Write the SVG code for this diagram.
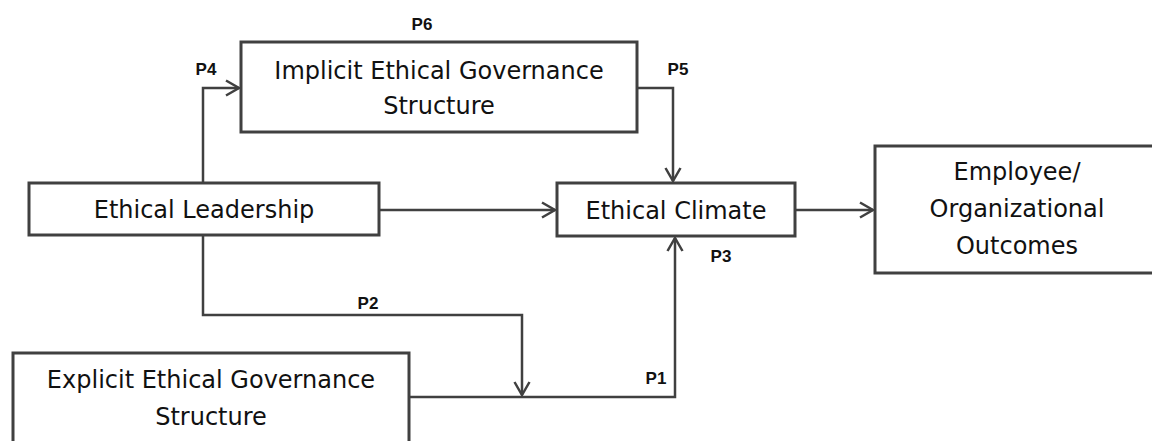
<svg xmlns="http://www.w3.org/2000/svg" width="1152" height="441" viewBox="0 0 1152 441">
<style>
.box{fill:#fff;stroke:#404040;stroke-width:3}
.t{font-family:"DejaVu Sans",sans-serif;font-size:24px;fill:#111;text-anchor:middle}
.p{font-family:"Liberation Sans",Arial,sans-serif;font-size:17px;font-weight:bold;fill:#111;text-anchor:middle}
.c{fill:none;stroke:#404040;stroke-width:2.5}
</style>
<defs>
<marker id="ah" markerUnits="userSpaceOnUse" markerWidth="20" markerHeight="20" viewBox="-15 -10 17 20" refX="0" refY="0" orient="auto">
<path d="M-13,-7.5 L0,0 L-13,7.5" fill="none" stroke="#404040" stroke-width="2.5"/>
</marker>
</defs>
<rect width="1152" height="441" fill="#fff"/>
<g id="connectors">
<path class="c" d="M203,183 V88 H239" marker-end="url(#ah)"/>
<path class="c" d="M637,88 H673 V181" marker-end="url(#ah)"/>
<path class="c" d="M379,210 H555" marker-end="url(#ah)"/>
<path class="c" d="M795,210 H873" marker-end="url(#ah)"/>
<path class="c" d="M203,235 V315 H522 V395" marker-end="url(#ah)"/>
<path class="c" d="M409,397 H675 V238" marker-end="url(#ah)"/>
</g>
<g id="labels">
<text class="p" x="422" y="30">P6</text>
<text class="p" x="206" y="75">P4</text>
<text class="p" x="678" y="75">P5</text>
<text class="p" x="721" y="262">P3</text>
<text class="p" x="368" y="309">P2</text>
<text class="p" x="656" y="384">P1</text>
</g>
<g id="implicit">
<rect class="box" x="241" y="42" width="396" height="90"/>
<text class="t" x="439" y="79">Implicit Ethical Governance</text>
<text class="t" x="439" y="114">Structure</text>
</g>
<g id="leadership">
<rect class="box" x="29" y="183" width="350" height="52"/>
<text class="t" x="204" y="218">Ethical Leadership</text>
</g>
<g id="climate">
<rect class="box" x="557" y="183" width="238" height="53"/>
<text class="t" x="676" y="219">Ethical Climate</text>
</g>
<g id="outcomes">
<rect class="box" x="875" y="146" width="290" height="127"/>
<text class="t" x="1017" y="180">Employee/</text>
<text class="t" x="1017" y="217">Organizational</text>
<text class="t" x="1017" y="254">Outcomes</text>
</g>
<g id="explicit">
<rect class="box" x="13" y="353" width="396" height="100"/>
<text class="t" x="211" y="388">Explicit Ethical Governance</text>
<text class="t" x="211" y="425">Structure</text>
</g>
</svg>
